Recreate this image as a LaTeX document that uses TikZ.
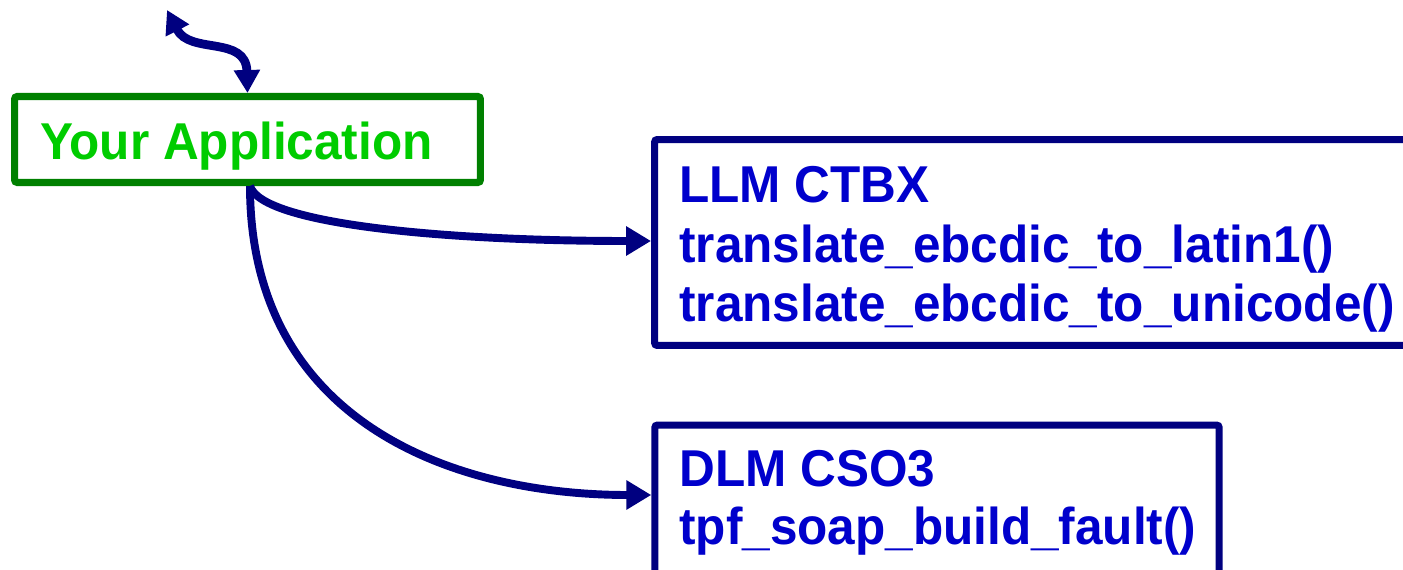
\documentclass[tikz,border=0pt]{standalone}
\usepackage{fontspec}
\setmainfont{Liberation Sans}[FakeStretch=0.955]
\usetikzlibrary{arrows.meta}
\definecolor{navy}{RGB}{0,0,128}
\definecolor{txtblue}{RGB}{0,0,204}
\definecolor{dkgreen}{RGB}{0,128,0}
\definecolor{ltgreen}{RGB}{0,204,0}
\tikzset{
  boxnavy/.style={draw=navy, line width=4pt, rounded corners=1.5pt, inner sep=0pt},
  boxgreen/.style={draw=dkgreen, line width=4pt, rounded corners=1.5pt, inner sep=0pt},
  lbl/.style={inner sep=0pt, anchor=base west, font=\fontsize{29.5}{34}\selectfont\bfseries},
  conn/.style={draw=navy, line width=4.5pt, -{Triangle[length=0.5cm,width=0.56cm]}},
  conn2/.style={draw=navy, line width=5pt, {Triangle[length=0.46cm,width=0.5cm]}-{Triangle[length=0.46cm,width=0.5cm]}}
}
\begin{document}
\begin{tikzpicture}[x=0.02cm,y=-0.02cm]
\useasboundingbox (0,0) rectangle (1403,570);
% boxes
\node[boxgreen, minimum width=9.32cm, minimum height=1.72cm] (app) at (247.5,139.5) {};
\node[boxnavy, minimum width=15.3cm, minimum height=4.12cm] (llm) at (1037,242.5) {};
\node[boxnavy, minimum width=11.29cm, minimum height=3.5cm] (dlm) at (937,512.5) {};
% texts
\node[lbl, text=ltgreen] (apptxt) at (40,160) {Your Application};
\node[lbl, text=txtblue] (llm1) at (679,203) {LLM CTBX};
\node[lbl, text=txtblue] (llm2) at (679,263) {translate\_ebcdic\_to\_latin1()};
\node[lbl, text=txtblue] (llm3) at (679,322) {translate\_ebcdic\_to\_unicode()};
\node[lbl, text=txtblue] (dlm1) at (679,487) {DLM CSO3};
\node[lbl, text=txtblue] (dlm2) at (679,544) {tpf\_soap\_build\_fault()};
% connectors
\coordinate (ext) at (167,10);
\coordinate (appout) at ([xshift=0.05cm]app.south);
\path[conn] (appout) .. controls (262,225) and (450,241) .. (llm.west |- 0,241);
\path[conn] (appout) .. controls (250,420) and (450,495) .. (dlm.west |- 0,495);
\path[conn2] (ext) .. controls (190,55) and (246,35) .. (app.north);
\end{tikzpicture}
\end{document}
